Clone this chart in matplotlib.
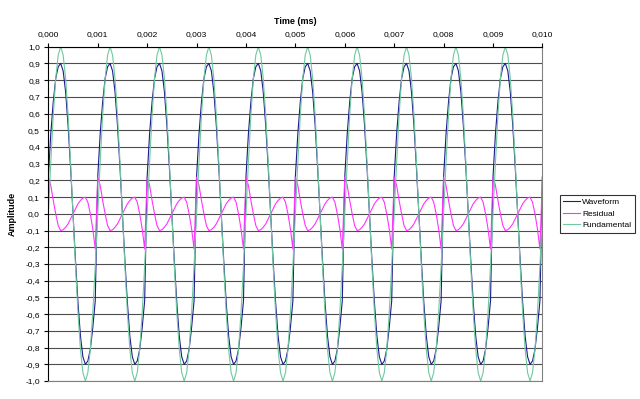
"""
Waveform / residual / fundamental chart, Excel style.
"""

import numpy as np
import matplotlib.pyplot as plt
from matplotlib.ticker import FuncFormatter, MultipleLocator

plt.rcParams['font.family'] = ['Liberation Sans', 'DejaVu Sans']

# one period (0.001 ms), 20 samples per period
sample_step = 0.00005   # ms
n_cycles = 10

fundamental_cycle = [0.0, 0.31, 0.59, 0.81, 0.95, 1.0, 0.95, 0.81, 0.59, 0.31,
                     0.0, -0.31, -0.59, -0.81, -0.95, -1.0, -0.95, -0.81, -0.59, -0.31]
residual_cycle = [0.22, 0.17, 0.08, 0.0, -0.07, -0.1, -0.095, -0.08, -0.06, -0.03,
                  0.0, 0.03, 0.06, 0.08, 0.095, 0.1, 0.07, 0.0, -0.09, -0.21]
waveform_cycle = [0.22, 0.48, 0.67, 0.81, 0.88, 0.9, 0.855, 0.73, 0.53, 0.28,
                  0.0, -0.28, -0.53, -0.73, -0.855, -0.9, -0.88, -0.81, -0.68, -0.52]

series_names = ['Waveform', 'Residual', 'Fundamental']
series_colors = ['#1c1c8c', '#ff33ff', '#70c9a0']


def full_series(cycle):
    # the picture shows the same period repeated, close with the first sample
    vals = np.tile(cycle, n_cycles)
    return np.append(vals, cycle[0])


waveform = full_series(waveform_cycle)
residual = full_series(residual_cycle)
fundamental = full_series(fundamental_cycle)
t = np.arange(len(waveform)) * sample_step

fig = plt.figure(figsize=(6.4, 3.99), dpi=100)
ax = fig.add_axes([0.0755, 0.045, 0.772, 0.838])

for vals, name, col in zip([waveform, residual, fundamental], series_names, series_colors):
    ax.plot(t, vals, color=col, linewidth=0.8, label=name)

# axes
ax.set_xlim(0, 0.010)
ax.set_ylim(-1.0, 1.0)
ax.xaxis.set_major_locator(MultipleLocator(0.001))
ax.yaxis.set_major_locator(MultipleLocator(0.1))
ax.xaxis.tick_top()
ax.xaxis.set_label_position('top')
ax.xaxis.set_major_formatter(FuncFormatter(lambda v, p: f"{v:.3f}".replace('.', ',')))
ax.yaxis.set_major_formatter(FuncFormatter(lambda v, p: f"{v:.1f}".replace('.', ',').replace('-0,0', '0,0')))
ax.tick_params(axis='both', labelsize=6, direction='out', length=3, width=0.8, pad=3)

ax.set_xlabel('Time (ms)', fontsize=6.5, fontweight='bold', labelpad=5)
ax.set_ylabel('Amplitude', fontsize=6.5, fontweight='bold', labelpad=6)

ax.grid(True, axis='y', color='#4d4d4d', linewidth=0.8)
ax.set_axisbelow(True)
for side in ['left', 'top']:
    ax.spines[side].set_color('black')
    ax.spines[side].set_linewidth(0.8)
for side in ['right', 'bottom']:
    ax.spines[side].set_color('#808080')
    ax.spines[side].set_linewidth(0.8)

# legend
leg = ax.legend(loc='center left', bbox_to_anchor=(1.035, 0.5), fontsize=6,
                frameon=True, fancybox=False, handlelength=2.0, handletextpad=0.3,
                borderpad=0.4, labelspacing=0.45, borderaxespad=0)
leg.get_frame().set_edgecolor('black')
leg.get_frame().set_linewidth(0.8)

plt.savefig('out.png', dpi=100)
